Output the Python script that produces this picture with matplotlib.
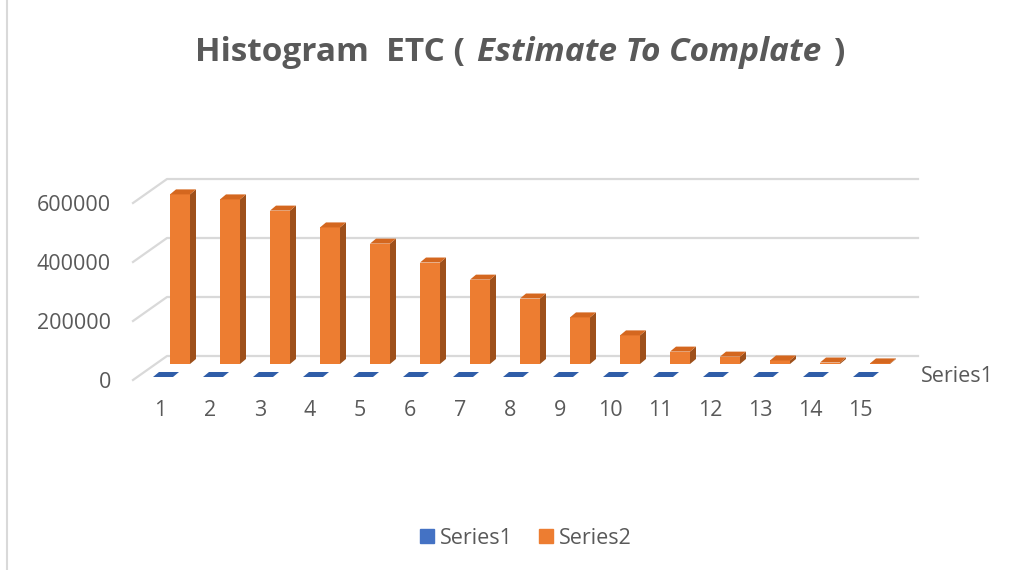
import numpy as np
import matplotlib.pyplot as plt
from matplotlib.patches import Polygon, Patch
from matplotlib.lines import Line2D

# data
categories = list(range(1, 16))
series1 = [0] * 15
series2 = [575000, 558000, 520000, 463000, 408000, 344000, 286000, 222000,
           158000, 97000, 42000, 25000, 12000, 5000, 2000]
y_ticks = [0, 200000, 400000, 600000]
series_names = ["Series1", "Series2"]
title_parts = ["Histogram  ETC (", "Estimate To Complate", ")"]

plt.rcParams['font.family'] = ['Open Sans', 'DejaVu Sans']
GREY = '#595959'
GRID = '#D9D9D9'
ORANGE, ORANGE_TOP, ORANGE_SIDE = '#ED7D31', '#D4671F', '#9E501B'
BLUE, BLUE_TOP = '#4472C4', '#2F5DA8'
FS = 15.5

W, H = 1026, 570
fig = plt.figure(figsize=(W / 100, H / 100), dpi=100)
ax = fig.add_axes([0, 0, 1, 1])
ax.set_axis_off()

# fake 3d: one category = 50 px, one pixel = 3390 value units
PX_X = 1 / 50
PX_V = 3390
X0_PX, BASE_PX = 180, 364
ax.set_xlim(1 - X0_PX * PX_X, 1 + (W - X0_PX) * PX_X)
ax.set_ylim(-(H - BASE_PX) * PX_V, BASE_PX * PX_V)

bw = 0.4                 # bar front width
ddx, ddv = 6 * PX_X, 5 * PX_V  # depth of a bar

# back wall gridlines with the diagonal on the side wall
for g in y_ticks:
    xs = [1 + (133 - X0_PX) * PX_X, 1 + (167 - X0_PX) * PX_X, 1 + (918 - X0_PX) * PX_X]
    vs = [g - 16 * PX_V, g + 8 * PX_V, g + 8 * PX_V]
    ax.plot(xs, vs, color=GRID, lw=1.6, zorder=1)
    ax.text(1 + (111 - X0_PX) * PX_X, g - 18 * PX_V, str(g), ha='right', va='center',
            fontsize=FS, color=GREY)

# Series2 (back row)
ax.bar(categories, series2, width=bw, color=ORANGE, edgecolor='none', zorder=2)
for x, v in zip(categories, series2):
    x0, x1 = x - bw / 2, x + bw / 2
    top = [(x0, v), (x1, v), (x1 + ddx, v + ddv), (x0 + ddx, v + ddv)]
    side = [(x1, 0), (x1 + ddx, ddv), (x1 + ddx, v + ddv), (x1, v)]
    ax.add_patch(Polygon(side, closed=True, facecolor=ORANGE_SIDE, edgecolor='none', zorder=2))
    ax.add_patch(Polygon(top, closed=True, facecolor=ORANGE_TOP, edgecolor='none', zorder=2))

# Series1 (front row) - all zero, so only flat tops show
off_x, off_v = -17 * PX_X, -13 * PX_V
ax.bar(np.array(categories) + off_x, series1, width=bw, bottom=off_v, color=BLUE, zorder=3)
for x, v in zip(categories, series1):
    x0, x1 = x + off_x - bw / 2, x + off_x + bw / 2
    b = v + off_v
    top = [(x0, b), (x1, b), (x1 + ddx, b + ddv), (x0 + ddx, b + ddv)]
    ax.add_patch(Polygon(top, closed=True, facecolor=BLUE_TOP, edgecolor='none', zorder=3))

# category labels
for x in categories:
    ax.text(x - 0.4, -47 * PX_V, str(x), ha='center', va='center', fontsize=FS, color=GREY)

# depth axis label
ax.text(1 + (921 - X0_PX) * PX_X, -12 * PX_V, series_names[0], ha='left', va='center',
        fontsize=FS, color=GREY)

# legend
fig.legend(handles=[Patch(color=BLUE), Patch(color=ORANGE)], labels=series_names,
           loc='center', bbox_to_anchor=(526 / W, 1 - 538 / H), ncol=2, frameon=False,
           fontsize=FS, labelcolor=GREY, handlelength=0.65, handleheight=0.65,
           handletextpad=0.3, columnspacing=1.2)

# title: bold with an italic middle part
renderer = fig.canvas.get_renderer()
xpos = 195
for part, style in zip(title_parts, ['normal', 'italic', 'normal']):
    t = fig.text(xpos / W, 1 - 61 / H, part, fontsize=24, fontweight='bold', style=style,
                 color=GREY, ha='left', va='baseline')
    xpos = t.get_window_extent(renderer).x1 + 12

# chart border on the left
fig.add_artist(Line2D([7 / W, 7 / W], [0, 1], color=GRID, lw=1.5))

fig.savefig('out.png', dpi=100)
